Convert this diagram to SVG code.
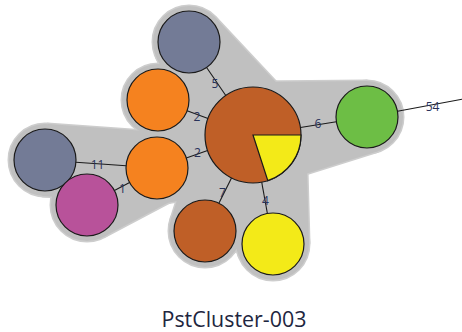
<svg xmlns="http://www.w3.org/2000/svg" xmlns:xlink="http://www.w3.org/1999/xlink" width="462" height="332" viewBox="0 0 462 332">
  <style>
    .node { stroke: #1a1a1a; stroke-width: 1.2; }
    .grey { fill: #737b96; }
    .orange { fill: #f5821f; }
    .brown { fill: #bf5f27; }
    .green { fill: #6dbe45; }
    .magenta { fill: #b8529a; }
    .yellow { fill: #f3ea18; }
    .edge { stroke: #1a1a1a; stroke-width: 1.1; fill: none; }
    .lbl { font-family: "Open Sans", "DejaVu Sans", sans-serif; font-size: 12px; fill: #28325a; text-anchor: middle; }
    .title { font-family: "Open Sans", "DejaVu Sans", sans-serif; font-size: 21px; fill: #1e2640; text-anchor: middle; }
    .hull-edge { fill: #cdcdcd; stroke: #cdcdcd; stroke-width: 3; stroke-linejoin: round; }
    .hull-fill { fill: #c0c0c0; stroke: none; }
  </style>
  <defs>
    <!-- cluster hull: union of padded circles and the tapered bands joining linked nodes -->
    <g id="hullShapes">
      <circle cx="253" cy="135" r="53"/>
      <circle cx="189" cy="42" r="36"/>
      <circle cx="158" cy="100" r="36"/>
      <circle cx="157" cy="168" r="36"/>
      <circle cx="45" cy="160" r="36"/>
      <circle cx="87" cy="205" r="36"/>
      <circle cx="367" cy="117" r="36"/>
      <circle cx="205" cy="231" r="36"/>
      <circle cx="273" cy="244" r="36"/>
      <polygon points="291.6,98.7 215.2,17.4 156.6,57.7 205.3,158.1"/>
      <polygon points="262.7,82.9 164.6,64.6 140.1,131.2 226.6,181.0"/>
      <polygon points="227.6,88.5 139.8,136.4 162.8,203.5 261.6,187.3"/>
      <polygon points="268.9,185.6 377.8,151.3 366.7,81.0 252.5,82.0"/>
      <polygon points="202.4,119.1 170.7,220.2 234.2,252.0 296.1,165.9"/>
      <polygon points="203.0,152.5 239.0,255.9 309.0,243.0 306.0,133.5"/>
      <polygon points="47.6,124.1 159.6,132.1 154.4,203.9 42.4,195.9"/>
      <polygon points="103.8,236.8 173.8,199.8 140.2,136.2 70.2,173.2"/>
    </g>
  </defs>

  <g id="hull">
    <use xlink:href="#hullShapes" href="#hullShapes" class="hull-edge"/>
    <use xlink:href="#hullShapes" href="#hullShapes" class="hull-fill"/>
  </g>

  <g id="node-center">
    <circle class="node brown" cx="253" cy="135" r="48"/>
    <path class="node yellow" d="M253,135 L301,135 A48,48 0 0,1 267.83,180.65 Z"/>
  </g>
  <g id="node-top"><circle class="node grey" cx="189" cy="42" r="31"/></g>
  <g id="node-orange-upper"><circle class="node orange" cx="158" cy="100" r="31"/></g>
  <g id="node-orange-lower"><circle class="node orange" cx="157" cy="168" r="31"/></g>
  <g id="node-grey-left"><circle class="node grey" cx="45" cy="160" r="31"/></g>
  <g id="node-magenta"><circle class="node magenta" cx="87" cy="205" r="31"/></g>
  <g id="node-green"><circle class="node green" cx="367" cy="117" r="31"/></g>
  <g id="node-brown-lower"><circle class="node brown" cx="205" cy="231" r="31"/></g>
  <g id="node-yellow-lower"><circle class="node yellow" cx="273" cy="244" r="31"/></g>

  <g id="connectors">
    <line class="edge" x1="206.6" y1="67.5" x2="225.8" y2="95.5"/>
    <line class="edge" x1="187.1" y1="110.7" x2="208.0" y2="118.4"/>
    <line class="edge" x1="186.3" y1="157.9" x2="207.6" y2="150.6"/>
    <line class="edge" x1="300.4" y1="127.5" x2="336.4" y2="121.8"/>
    <line class="edge" x1="231.5" y1="177.9" x2="218.9" y2="203.3"/>
    <line class="edge" x1="261.7" y1="182.2" x2="267.4" y2="213.5"/>
    <line class="edge" x1="75.9" y1="162.2" x2="126.1" y2="165.8"/>
    <line class="edge" x1="114.4" y1="190.5" x2="129.6" y2="182.5"/>
    <line class="edge" x1="397.5" y1="111.3" x2="462" y2="99.3"/>

    <text class="lbl" x="215" y="88">5</text>
    <text class="lbl" x="197" y="120.5">2</text>
    <text class="lbl" x="197.5" y="157">2</text>
    <text class="lbl" x="318" y="128">6</text>
    <text class="lbl" x="432.5" y="110.5">54</text>
    <text class="lbl" x="97.5" y="168.5">11</text>
    <text class="lbl" x="122.5" y="193">1</text>
    <text class="lbl" x="222.5" y="197">7</text>
    <text class="lbl" x="265.5" y="204.5">4</text>
  </g>

  <text class="title" x="234" y="326.5" textLength="145" lengthAdjust="spacingAndGlyphs">PstCluster-003</text>
</svg>
